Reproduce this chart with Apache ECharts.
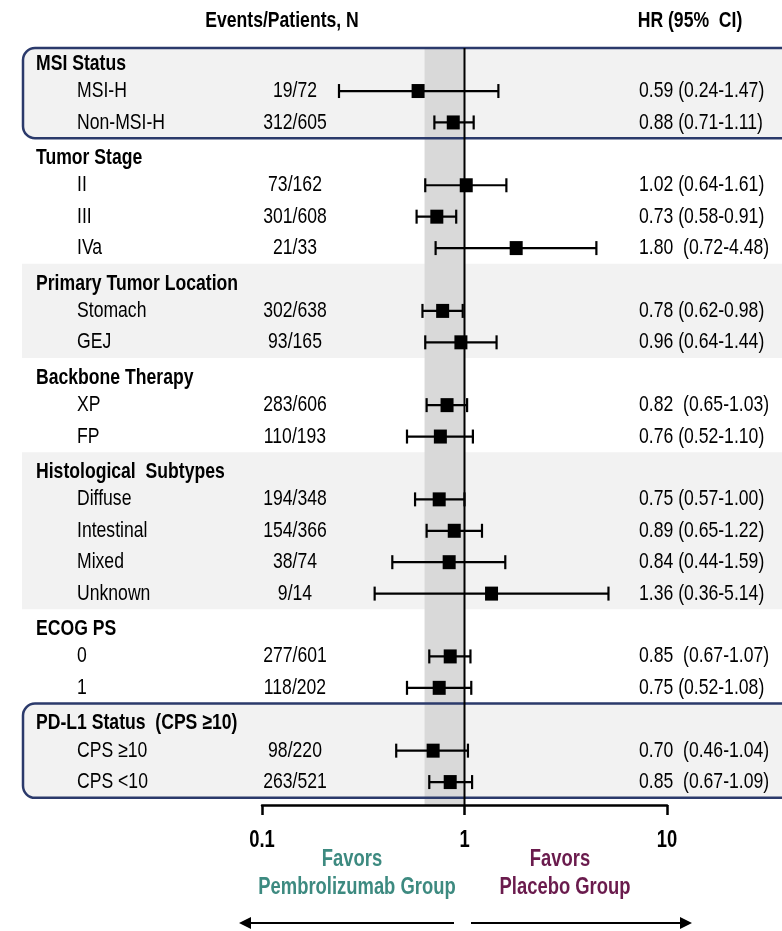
<!DOCTYPE html>
<html><head><meta charset="utf-8">
<script src="https://cdn.jsdelivr.net/npm/echarts@6/dist/echarts.min.js"></script>
<style>html,body{margin:0;padding:0;background:#fff}#c{width:782px;height:931px}</style>
</head><body><div id="c"></div>
<script>
// ---------- data ----------
const rowLabels = ['MSI Status','MSI-H','Non-MSI-H','Tumor Stage','II','III','IVa',
  'Primary Tumor Location','Stomach','GEJ','Backbone Therapy','XP','FP',
  'Histological  Subtypes','Diffuse','Intestinal','Mixed','Unknown',
  'ECOG PS','0','1','PD-L1 Status  (CPS \u226510)','CPS \u226510','CPS <10'];
const isHeader = [1,0,0,1,0,0,0,1,0,0,1,0,0,1,0,0,0,0,1,0,0,1,0,0];
const counts = [null,'19/72','312/605',null,'73/162','301/608','21/33',
  null,'302/638','93/165',null,'283/606','110/193',
  null,'194/348','154/366','38/74','9/14',null,'277/601','118/202',null,'98/220','263/521'];
const hr     = [null,0.59,0.88,null,1.02,0.73,1.80,null,0.78,0.96,null,0.82,0.76,null,0.75,0.89,0.84,1.36,null,0.85,0.75,null,0.70,0.85];
const ciLow  = [null,0.24,0.71,null,0.64,0.58,0.72,null,0.62,0.64,null,0.65,0.52,null,0.57,0.65,0.44,0.36,null,0.67,0.52,null,0.46,0.67];
const ciHigh = [null,1.47,1.11,null,1.61,0.91,4.48,null,0.98,1.44,null,1.03,1.10,null,1.00,1.22,1.59,5.14,null,1.07,1.08,null,1.04,1.09];
const hrText = [null,'0.59 (0.24-1.47)','0.88 (0.71-1.11)',null,'1.02 (0.64-1.61)','0.73 (0.58-0.91)','1.80  (0.72-4.48)',
  null,'0.78 (0.62-0.98)','0.96 (0.64-1.44)',null,'0.82  (0.65-1.03)','0.76 (0.52-1.10)',
  null,'0.75 (0.57-1.00)','0.89 (0.65-1.22)','0.84 (0.44-1.59)','1.36 (0.36-5.14)',
  null,'0.85  (0.67-1.07)','0.75 (0.52-1.08)',null,'0.70  (0.46-1.04)','0.85  (0.67-1.09)'];
const boxGroups  = [[0,2],[21,23]];   // outlined groups (first row, last row)
const fillGroups = [[7,9],[13,17]];   // shaded groups
const refBand = [0.635, 1];           // shaded reference band on HR scale
const xTickLabels = ['0.1','1','10'];

// ---------- layout/style ----------
const FONT = '"Liberation Sans",Arial,sans-serif';
const SX = 0.8;       // horizontal condensing to mimic a narrow face
const SZ = 22;
const HEADER_SHIFT = 4;
const NAVY = '#2b3a6b';
const LIGHT = '#f2f2f2';
const BAND = '#d9d9d9';

function T(x, y, text, font, fill, align){
  return {type:'text', x:x, y:y, scaleX:SX, scaleY:1,
    style:{x:0, y:0, text:text, font:font, fill:fill, align:align||'left', verticalAlign:'middle'}};
}

const chart = echarts.init(document.getElementById('c'), null, {renderer:'canvas'});

const forestRows = [], squares = [], textRows = [];
rowLabels.forEach((l,i)=>{
  textRows.push([1,i]);
  if (hr[i] != null) { forestRows.push([ciLow[i], ciHigh[i], i]); squares.push([hr[i], i]); }
});

function bandY(api, cs, a, b){
  const y0 = Math.max(api.coord([1, a-0.5])[1], cs.y), y1 = api.coord([1, b+0.5])[1];
  return [y0, y1];
}

const option = {
  animation:false,
  backgroundColor:'#fff',
  grid:{left:262, right:115, top:48, bottom:126},
  xAxis:{type:'log', logBase:10, min:0.1, max:10, position:'bottom', z:8,
    axisLine:{show:true, onZero:false, lineStyle:{color:'#000', width:2.5}},
    axisTick:{show:true, length:10, lineStyle:{color:'#000', width:2.5}},
    splitLine:{show:false}, minorTick:{show:false},
    axisLabel:{show:false}
  },
  yAxis:{type:'value', inverse:true, min:-0.37, max:23.73, show:false},
  series:[
    { // shaded group backgrounds + box fills
      type:'custom', z:1, silent:true, clip:false,
      data: fillGroups.map(g=>[1,g[0],g[1],0]).concat(boxGroups.map(g=>[1,g[0],g[1],1])),
      encode:{x:0, y:[1,2]},
      renderItem:(params, api)=>{
        const [y0,y1] = bandY(api, params.coordSys, api.value(1), api.value(2));
        const isBox = api.value(3) === 1;
        return {type:'rect', shape:{x:isBox?23:22, y:y0, width:api.getWidth(), height:y1-y0, r:isBox?12:0},
          style:{fill:LIGHT}};
      }
    },
    { // reference band
      type:'custom', z:2, silent:true, clip:false,
      data:[[refBand[0], refBand[1], 0]],
      encode:{x:[0,1], y:2},
      renderItem:(params, api)=>{
        const cs = params.coordSys;
        const x0 = api.coord([api.value(0), 0])[0], x1 = api.coord([api.value(1), 0])[0];
        return {type:'rect', shape:{x:x0, y:cs.y, width:x1-x0, height:cs.height}, style:{fill:BAND}};
      }
    },
    { // box outlines
      type:'custom', z:3, silent:true, clip:false,
      data: boxGroups.map(g=>[1,g[0],g[1]]),
      encode:{x:0, y:[1,2]},
      renderItem:(params, api)=>{
        const [y0,y1] = bandY(api, params.coordSys, api.value(1), api.value(2));
        return {type:'rect', shape:{x:23, y:y0, width:api.getWidth(), height:y1-y0, r:12},
          style:{fill:null, stroke:NAVY, lineWidth:2.5}};
      }
    },
    { // line of no effect
      type:'custom', z:4, silent:true, clip:false,
      data:[[1,0]], encode:{x:0, y:1},
      renderItem:(params, api)=>{
        const cs = params.coordSys;
        const x = api.coord([api.value(0), 0])[0];
        return {type:'line', shape:{x1:x, y1:cs.y, x2:x, y2:cs.y+cs.height}, style:{stroke:'#000', lineWidth:2}};
      }
    },
    { // CI bars
      type:'custom', z:5, silent:true, clip:false,
      data: forestRows, encode:{x:[0,1], y:2},
      renderItem:(params, api)=>{
        const p0 = api.coord([api.value(0), api.value(2)]);
        const p1 = api.coord([api.value(1), api.value(2)]);
        const st = {stroke:'#000', lineWidth:2.2};
        return {type:'group', children:[
          {type:'line', shape:{x1:p0[0], y1:p0[1], x2:p1[0], y2:p1[1]}, style:st},
          {type:'line', shape:{x1:p0[0], y1:p0[1]-7, x2:p0[0], y2:p0[1]+7}, style:st},
          {type:'line', shape:{x1:p1[0], y1:p1[1]-7, x2:p1[0], y2:p1[1]+7}, style:st}
        ]};
      }
    },
    { // HR point estimates
      type:'scatter', z:6, silent:true, symbol:'rect', symbolSize:[13,14],
      itemStyle:{color:'#000', opacity:1}, data:squares
    },
    { // row texts
      type:'custom', z:7, silent:true, clip:false,
      data:textRows, encode:{x:0, y:1},
      renderItem:(params, api)=>{
        const i = api.value(1);
        const y = api.coord([1, i])[1];
        const kids = [];
        if (isHeader[i]) {
          kids.push(T(36, y + HEADER_SHIFT, rowLabels[i], `bold ${SZ}px ${FONT}`, '#000', 'left'));
        } else {
          kids.push(T(77, y, rowLabels[i], `${SZ}px ${FONT}`, '#000', 'left'));
          kids.push(T(295, y, counts[i], `${SZ}px ${FONT}`, '#000', 'center'));
          kids.push(T(639, y, hrText[i], `${SZ}px ${FONT}`, '#000', 'left'));
        }
        return {type:'group', children:kids};
      }
    },
    { // x tick labels
      type:'custom', z:7, silent:true, clip:false,
      data: xTickLabels.map(s=>[parseFloat(s)]), encode:{x:0},
      renderItem:(params, api)=>{
        const v = api.value(0);
        const x = api.coord([v, 0])[0];
        const cs = params.coordSys;
        return T(x, cs.y+cs.height+36, xTickLabels[params.dataIndex], `bold 23px ${FONT}`, '#000', 'center');
      }
    }
  ],
  graphic:[
    T(282, 21, 'Events/Patients, N', `bold 22px ${FONT}`, '#000', 'center'),
    T(690, 21, 'HR (95%  CI)', `bold 22px ${FONT}`, '#000', 'center'),
    T(352, 860, 'Favors', `bold 23px ${FONT}`, '#3d8a80', 'center'),
    T(357, 888, 'Pembrolizumab Group', `bold 23px ${FONT}`, '#3d8a80', 'center'),
    T(560, 860, 'Favors', `bold 23px ${FONT}`, '#6a1b4d', 'center'),
    T(565, 888, 'Placebo Group', `bold 23px ${FONT}`, '#6a1b4d', 'center'),
    {type:'line', shape:{x1:454, y1:923, x2:248, y2:923}, style:{stroke:'#000', lineWidth:2}},
    {type:'polygon', shape:{points:[[239,923],[251,917],[251,929]]}, style:{fill:'#000'}},
    {type:'line', shape:{x1:471, y1:923, x2:683, y2:923}, style:{stroke:'#000', lineWidth:2}},
    {type:'polygon', shape:{points:[[692,923],[680,917],[680,929]]}, style:{fill:'#000'}}
  ]
};
chart.setOption(option);
</script></body></html>
